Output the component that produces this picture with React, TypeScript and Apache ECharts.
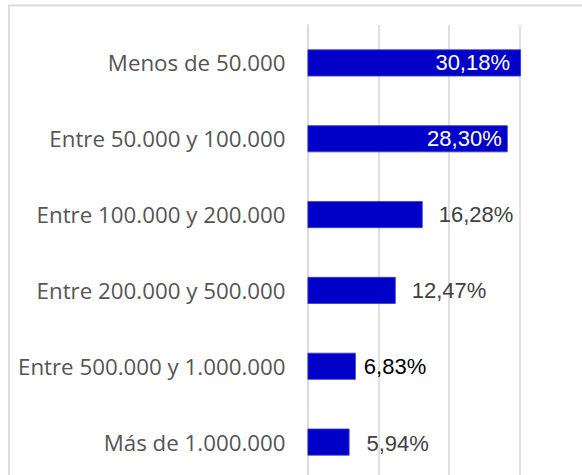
import React, { useEffect, useRef } from "react";
import * as echarts from "echarts";

const categories = [
  "Menos de 50.000",
  "Entre 50.000 y 100.000",
  "Entre 100.000 y 200.000",
  "Entre 200.000 y 500.000",
  "Entre 500.000 y 1.000.000",
  "Más de 1.000.000",
];
const values = [30.18, 28.3, 16.28, 12.47, 6.83, 5.94];
const labelPositions = ["insideRight", "insideRight", "right", "right", "right", "right"];
const labelColors = ["#ffffff", "#ffffff", "#404040", "#404040", "#000000", "#404040"];
const labelDistances = [11, 6, 16, 16, 8, 17];

const fmt = (v: number) => v.toFixed(2).replace(".", ",") + "%";

export default function App() {
  const ref = useRef<HTMLDivElement>(null);
  useEffect(() => {
    if (!ref.current) return;
    const chart = echarts.init(ref.current, null, { renderer: "svg" });
    chart.setOption({
      animation: false,
      backgroundColor: "#ffffff",
      grid: { left: 307.5, top: 25, width: 283, height: 455, containLabel: false },
      xAxis: {
        type: "value",
        min: 0,
        max: 40,
        interval: 10,
        axisLabel: { show: false },
        axisLine: { show: false },
        axisTick: { show: false },
        splitLine: { show: true, lineStyle: { color: "#d9d9d9", width: 1.6 } },
      },
      yAxis: {
        type: "category",
        inverse: true,
        data: categories,
        axisTick: { show: false },
        axisLine: { show: true, lineStyle: { color: "#d9d9d9", width: 1.6 } },
        axisLabel: {
          margin: 22,
          fontSize: 22.3,
          fontFamily: "Open Sans",
          color: "#555555",
        },
      },
      series: [
        {
          type: "bar",
          barWidth: 27,
          data: values.map((v, i) => ({
            value: v,
            label: {
              show: true,
              position: labelPositions[i],
              distance: labelDistances[i],
              color: labelColors[i],
              offset: i === 5 ? [0, 1.5] : [0, 0],
            },
          })),
          itemStyle: { color: "#0000c8", borderColor: "#3a3ad0", borderWidth: 0.8 },
          label: {
            show: true,
            fontSize: 22,
            fontFamily: "Liberation Sans",
            formatter: (p: any) => fmt(p.value),
          },
        },
      ],
      graphic: [
        {
          type: "rect",
          shape: { x: 9, y: 5.5, width: 700, height: 700 },
          style: { fill: "none", stroke: "#dcdcdc", lineWidth: 2 },
          silent: true,
        },
      ],
    });
    return () => chart.dispose();
  }, []);
  return (
    <div
      style={{
        position: "absolute",
        left: 0,
        top: 0,
        width: 582,
        height: 475,
        overflow: "hidden",
        background: "#fff",
      }}
    >
      <div ref={ref} style={{ width: 600, height: 490 }} />
    </div>
  );
}
